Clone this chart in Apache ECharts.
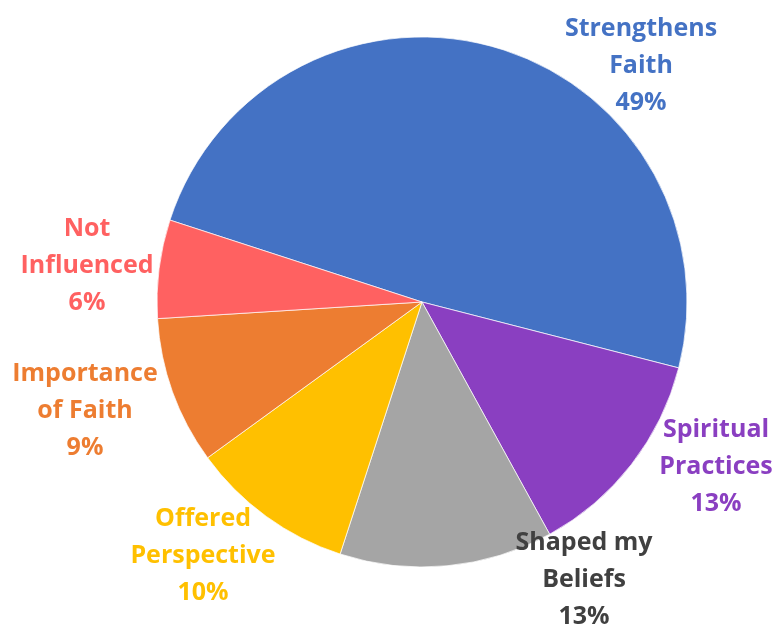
<!DOCTYPE html>
<html>
<head>
<meta charset="utf-8">
<script src="https://cdn.jsdelivr.net/npm/echarts@6/dist/echarts.min.js"></script>
<style>
  html, body { margin: 0; padding: 0; background: #fff; }
  #chart { width: 774px; height: 627px; }
</style>
</head>
<body>
<div id="chart"></div>
<script>
// Share of responses by how faith was influenced
const categories = [
  'Strengthens\nFaith',
  'Spiritual\nPractices',
  'Shaped my\nBeliefs',
  'Offered\nPerspective',
  'Importance\nof Faith',
  'Not\nInfluenced'
];
const shares = [49, 13, 13, 10, 9, 6];

const sliceColors = ['#4472C4', '#8A3FC1', '#A5A5A5', '#FFC000', '#ED7D31', '#FF6161'];
const labelColors = ['#4472C4', '#8A3FC1', '#404040', '#FFC000', '#ED7D31', '#FF6161'];
// Centre of each label block, in pixels
const labelAnchors = [[641, 66], [716, 467], [584, 580], [203, 556], [85, 411], [87, 266]];

const chart = echarts.init(document.getElementById('chart'), null, { renderer: 'canvas' });

chart.setOption({
  animation: false,
  backgroundColor: '#ffffff',
  series: [{
    type: 'pie',
    center: [422, 302],
    radius: [0, 265],
    startAngle: 162,
    clockwise: true,
    percentPrecision: 0,
    data: categories.map((name, i) => ({
      name,
      value: shares[i],
      itemStyle: { color: sliceColors[i] },
      label: { color: labelColors[i] }
    })),
    itemStyle: { borderColor: '#ffffff', borderWidth: 0.7 },
    label: {
      show: true,
      position: 'outside',
      formatter: '{b}\n{d}%',
      fontFamily: 'Open Sans',
      fontWeight: 'bold',
      fontSize: 25,
      lineHeight: 37,
      align: 'center',
      overflow: 'none'
    },
    labelLine: { show: false },
    labelLayout: (params) => {
      const a = labelAnchors[params.dataIndex];
      return { x: a[0], y: a[1], align: 'center', verticalAlign: 'middle', hideOverlap: false, moveOverlap: false };
    },
    emphasis: { disabled: true }
  }]
});
</script>
</body>
</html>
